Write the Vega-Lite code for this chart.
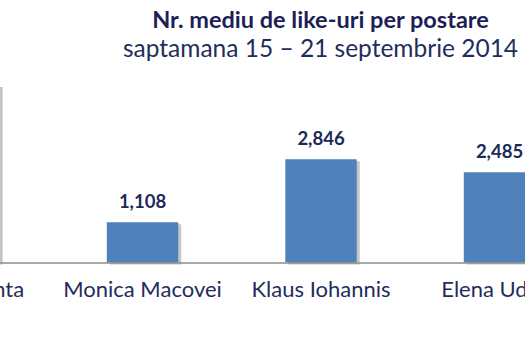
{
  "$schema": "https://vega.github.io/schema/vega-lite/v6.json",
  "width": 525,
  "height": 181.5,
  "autosize": {"type": "none"},
  "padding": {"top": 81, "left": 0, "right": 0, "bottom": 87.5},
  "background": "white",
  "title": {
    "text": "Nr. mediu de like-uri  per postare",
    "subtitle": "saptamana 15 – 21 septembrie 2014",
    "anchor": "middle",
    "frame": "group",
    "dx": 58,
    "dy": 26,
    "offset": 20,
    "font": "Lato",
    "fontSize": 23.5,
    "fontWeight": "bold",
    "color": "#1c1f55",
    "subtitleFont": "Lato",
    "subtitleFontSize": 24.5,
    "subtitleColor": "#1f2d5c",
    "subtitlePadding": 6
  },
  "config": {"view": {"stroke": null}},
  "data": {
    "values": [
      {"candidat": "Victor Ponta", "likes": 4890},
      {"candidat": "Monica Macovei", "likes": 1108},
      {"candidat": "Klaus Iohannis", "likes": 2846},
      {"candidat": "Elena Udrea", "likes": 2485}
    ]
  },
  "encoding": {
    "x": {
      "field": "candidat",
      "type": "nominal",
      "sort": null,
      "scale": {"range": [-125.25, 588.75], "paddingInner": 0.6, "paddingOuter": 0.3},
      "axis": {
        "title": null,
        "labelAngle": 0,
        "ticks": false,
        "tickSize": 0,
        "labelPadding": 17,
        "labelFont": "Lato",
        "labelFontSize": 22,
        "labelColor": "#1f2d5c",
        "domainColor": "#8c8c8c",
        "domainWidth": 1.5,
        "zindex": 1
      }
    },
    "y": {
      "field": "likes",
      "type": "quantitative",
      "scale": {"domain": [0, 5000]},
      "axis": null
    }
  },
  "layer": [
    {
      "mark": {"type": "bar", "color": "#7f7f7f", "opacity": 0.45, "xOffset": 3, "yOffset": 2}
    },
    {
      "mark": {"type": "bar", "color": "#4f81bd"}
    },
    {
      "mark": {"type": "text", "baseline": "alphabetic", "dy": -14, "font": "Lato", "fontSize": 18.5, "fontWeight": "bold", "color": "#1c2a5a"},
      "encoding": {"text": {"field": "likes", "type": "quantitative", "format": ","}}
    }
  ]
}
